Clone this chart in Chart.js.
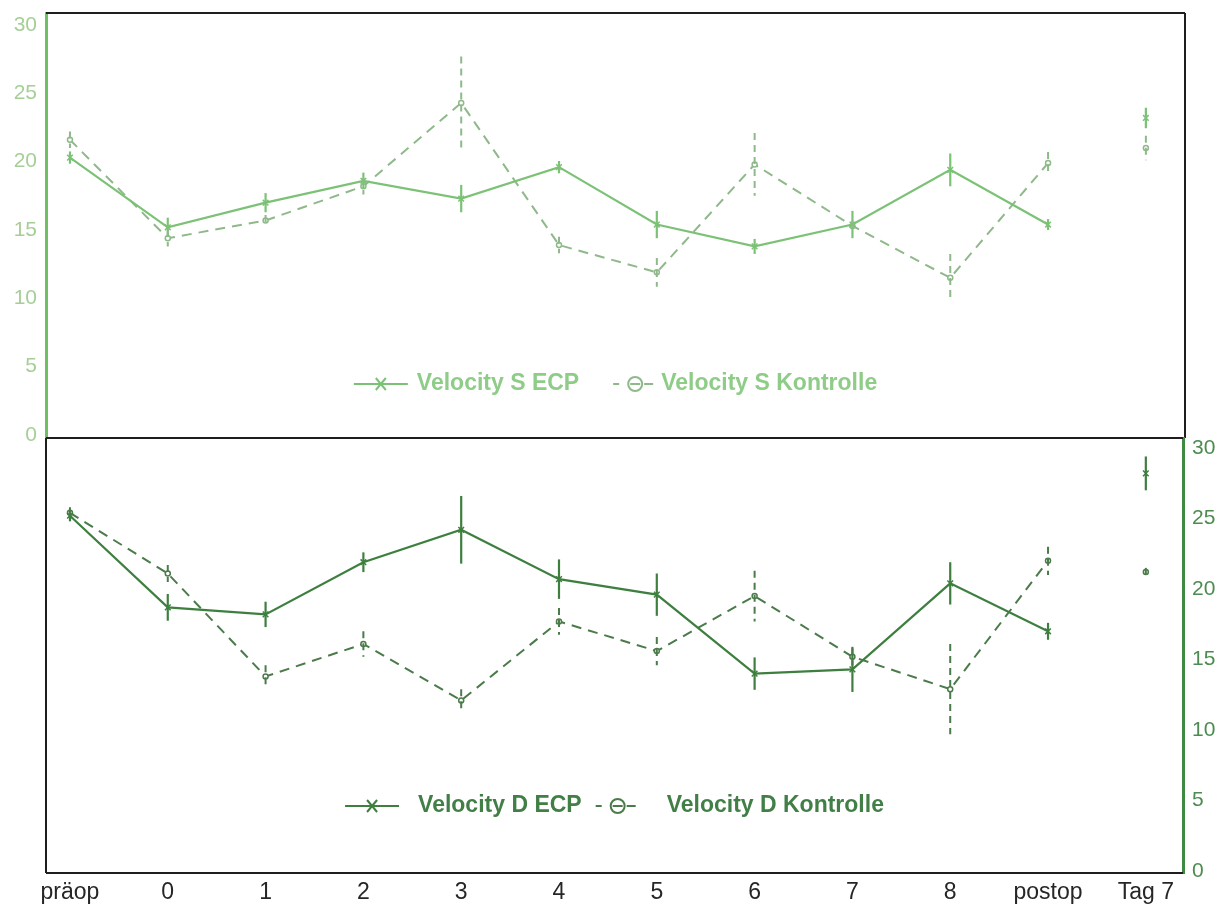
<!DOCTYPE html>
<html lang="de">
<head>
  <meta charset="UTF-8" />
  <title>Velocity S / Velocity D</title>
  <script src="https://cdn.jsdelivr.net/npm/chart.js"></script>
  <style>
    body {
      margin: 0;
      background: #fff;
    }
    .wrap {
      position: relative;
      width: 1227px;
      height: 908px;
    }
    #topChart { position: absolute; left: 0; top: 0; }
    #bottomChart { position: absolute; left: 0; top: 430px; }
  </style>
</head>
<body>
  <div class="wrap">
    <canvas id="topChart" width="1227" height="446"></canvas>
    <canvas id="bottomChart" width="1227" height="478"></canvas>
  </div>

  <script>
    const categories = ['präop', '0', '1', '2', '3', '4', '5', '6', '7', '8', 'postop', 'Tag 7'];
    const yTicks = [0, 5, 10, 15, 20, 25, 30];

    // Velocity S (oberes Diagramm)
    const velSEcp = [20.3, 15.2, 17.0, 18.6, 17.3, 19.6, 15.4, 13.8, 15.4, 19.4, 15.4, 23.2];
    const velSEcpErr = [0.45, 0.7, 0.7, 0.6, 1.0, 0.45, 1.0, 0.55, 1.0, 1.2, 0.4, 0.75];
    const velSKon = [21.6, 14.4, 15.7, 18.2, 24.3, 13.9, 11.9, 19.8, 15.3, 11.5, 19.9, 21.0];
    const velSKonErr = [0.6, 0.6, 0.4, 0.6, 3.4, 0.6, 1.05, 2.3, 0.4, 1.75, 0.8, 0.9];

    // Velocity D (unteres Diagramm)
    const velDEcp = [25.2, 18.7, 18.2, 21.9, 24.2, 20.7, 19.6, 14.0, 14.3, 20.4, 17.0, 28.2];
    const velDEcpErr = [0.4, 0.95, 0.9, 0.7, 2.4, 1.4, 1.5, 1.15, 1.6, 1.5, 0.6, 1.2];
    const velDKon = [25.4, 21.1, 13.8, 16.1, 12.1, 17.7, 15.6, 19.5, 15.2, 12.9, 22.0, 21.2];
    const velDKonErr = [0.4, 0.6, 0.8, 0.9, 0.8, 0.95, 1.0, 1.8, 0.6, 3.2, 1.0, 0.3];

    const FONT = '"Liberation Sans", Arial, sans-serif';

    const toPoints = arr => arr.map((v, i) => ({ x: i, y: v }));

    // Tag 7 steht allein, keine Verbindungslinie von postop
    const gapLast = color => ({
      borderColor: c => c.p1DataIndex === categories.length - 1 ? 'rgba(0,0,0,0)' : color
    });

    function series(label, values, errors, color, dashed, legendColor) {
      return {
        label: label,
        data: toPoints(values),
        errors: errors,
        legendColor: legendColor,
        borderColor: color,
        backgroundColor: '#fff',
        borderWidth: dashed ? 2 : 2.2,
        borderDash: dashed ? [10, 7] : [],
        pointStyle: dashed ? 'circle' : 'crossRot',
        pointRadius: dashed ? 2.5 : 4,
        pointBorderColor: color,
        pointBorderWidth: 1.5,
        tension: 0,
        segment: gapLast(color)
      };
    }

    const errorBars = {
      id: 'errorBars',
      afterDatasetsDraw(chart) {
        const ctx = chart.ctx, y = chart.scales.y;
        chart.data.datasets.forEach((ds, i) => {
          const meta = chart.getDatasetMeta(i);
          ctx.save();
          ctx.strokeStyle = ds.borderColor;
          ctx.lineWidth = ds.borderWidth;
          ctx.setLineDash(ds.borderDash.length ? [7, 5] : []);
          meta.data.forEach((pt, j) => {
            const v = ds.data[j].y, e = ds.errors[j];
            ctx.beginPath();
            ctx.moveTo(pt.x, y.getPixelForValue(v + e));
            ctx.lineTo(pt.x, y.getPixelForValue(v - e));
            ctx.stroke();
          });
          ctx.restore();
        });
      }
    };

    const frame = {
      id: 'frame',
      afterDraw(chart, args, opts) {
        const ctx = chart.ctx, a = chart.chartArea;
        ctx.save();
        ctx.strokeStyle = '#1e1e1e';
        ctx.lineWidth = 2;
        ctx.beginPath();
        if (opts.sides.includes('top')) { ctx.moveTo(a.left, a.top); ctx.lineTo(a.right, a.top); }
        if (opts.sides.includes('right')) { ctx.moveTo(a.right, a.top); ctx.lineTo(a.right, a.bottom); }
        if (opts.sides.includes('bottom')) { ctx.moveTo(a.left, a.bottom); ctx.lineTo(a.right, a.bottom); }
        if (opts.sides.includes('left')) { ctx.moveTo(a.left, a.top); ctx.lineTo(a.left, a.bottom); }
        ctx.stroke();
        ctx.restore();
      }
    };

    // Legende innerhalb der Zeichenfläche, unten mittig
    const lineLegend = {
      id: 'lineLegend',
      afterDraw(chart, args, opts) {
        const ctx = chart.ctx, a = chart.chartArea;
        const ds = chart.data.datasets;
        ctx.save();
        ctx.font = 'bold 23px ' + FONT;
        const w0 = ctx.measureText(ds[0].label).width;
        const w1 = ctx.measureText(ds[1].label).width;
        const g = opts.gaps;
        const total = 54 + g[0] + w0 + g[1] + 40 + g[2] + w1;
        let x = (a.left + a.right) / 2 - total / 2;
        const y = a.bottom - opts.offset;

        // ECP: durchgezogene Linie mit Kreuz
        ctx.strokeStyle = ds[0].borderColor;
        ctx.lineWidth = 2;
        ctx.beginPath();
        ctx.moveTo(x, y); ctx.lineTo(x + 54, y);
        ctx.moveTo(x + 22, y - 6); ctx.lineTo(x + 32, y + 6);
        ctx.moveTo(x + 32, y - 6); ctx.lineTo(x + 22, y + 6);
        ctx.stroke();
        x += 54 + g[0];
        ctx.fillStyle = ds[0].legendColor;
        ctx.textBaseline = 'middle';
        ctx.fillText(ds[0].label, x, y);
        x += w0 + g[1];

        // Kontrolle: Strich, Kreis, Strich
        ctx.strokeStyle = ds[1].borderColor;
        ctx.beginPath();
        ctx.moveTo(x, y); ctx.lineTo(x + 6, y);
        ctx.moveTo(x + 31, y); ctx.lineTo(x + 40, y);
        ctx.moveTo(x + 17, y); ctx.lineTo(x + 27, y);
        ctx.stroke();
        ctx.beginPath();
        ctx.arc(x + 22, y, 7, 0, Math.PI * 2);
        ctx.stroke();
        x += 40 + g[2];
        ctx.fillStyle = ds[1].legendColor;
        ctx.fillText(ds[1].label, x, y);
        ctx.restore();
      }
    };

    function fixedTicks(values) {
      return scale => { scale.ticks = values.map(v => ({ value: v })); };
    }

    // Achsenbreite fest, keine zusätzliche Randpolsterung für Beschriftungen
    function fitWidth(w) {
      return s => {
        s.width = w;
        s.paddingTop = 0;
        s.paddingBottom = 0;
      };
    }

    // oberes Diagramm: Velocity S
    new Chart(document.getElementById('topChart'), {
      type: 'line',
      data: {
        datasets: [
          series('Velocity S ECP', velSEcp, velSEcpErr, '#7cc276', false, '#8fcc88'),
          series('Velocity S Kontrolle', velSKon, velSKonErr, '#8fb98a', true, '#8fcc88')
        ]
      },
      options: {
        responsive: false,
        devicePixelRatio: 1,
        animation: false,
        layout: { padding: { top: 13, right: 42, bottom: 8, left: 0 } },
        plugins: {
          legend: { display: false },
          tooltip: { enabled: false },
          frame: { sides: ['top', 'right', 'bottom'] },
          lineLegend: { gaps: [9, 34, 8], offset: 54 }
        },
        scales: {
          x: {
            type: 'linear',
            min: -0.245,
            max: 11.4,
            display: false
          },
          y: {
            position: 'left',
            min: -0.22,
            max: 30.88,
            afterBuildTicks: fixedTicks(yTicks),
            afterFit: fitWidth(46),
            grid: { display: false, drawTicks: false },
            border: { color: '#6fbf63', width: 3 },
            ticks: {
              padding: 9,
              color: '#a6cf97',
              font: { family: FONT, size: 21 }
            }
          }
        }
      },
      plugins: [errorBars, frame, lineLegend]
    });

    // unteres Diagramm: Velocity D
    new Chart(document.getElementById('bottomChart'), {
      type: 'line',
      data: {
        datasets: [
          series('Velocity D ECP', velDEcp, velDEcpErr, '#3e7f40', false, '#427f47'),
          series('Velocity D Kontrolle', velDKon, velDKonErr, '#4b7b4b', true, '#427f47')
        ]
      },
      options: {
        responsive: false,
        devicePixelRatio: 1,
        animation: false,
        layout: { padding: { top: 8, right: 0, bottom: 0, left: 46 } },
        plugins: {
          legend: { display: false },
          tooltip: { enabled: false },
          frame: { sides: ['top', 'left', 'bottom'] },
          lineLegend: { gaps: [19, 14, 31], offset: 67 }
        },
        scales: {
          x: {
            type: 'linear',
            min: -0.245,
            max: 11.38,
            afterBuildTicks: fixedTicks(categories.map((c, i) => i)),
            afterFit: s => { s.height = 35; s.paddingLeft = 0; s.paddingRight = 0; },
            grid: { display: false, drawTicks: false },
            border: { display: false },
            ticks: {
              padding: 6,
              color: '#262626',
              maxRotation: 0,
              autoSkip: false,
              font: { family: FONT, size: 23 },
              callback: v => categories[v]
            }
          },
          y: {
            position: 'right',
            min: -0.14,
            max: 30.71,
            afterBuildTicks: fixedTicks(yTicks),
            afterFit: fitWidth(44),
            grid: { display: false, drawTicks: false },
            border: { color: '#3f8a42', width: 3 },
            ticks: {
              padding: 9,
              color: '#4d8c50',
              font: { family: FONT, size: 21 }
            }
          }
        }
      },
      plugins: [errorBars, frame, lineLegend]
    });
  </script>
</body>
</html>
